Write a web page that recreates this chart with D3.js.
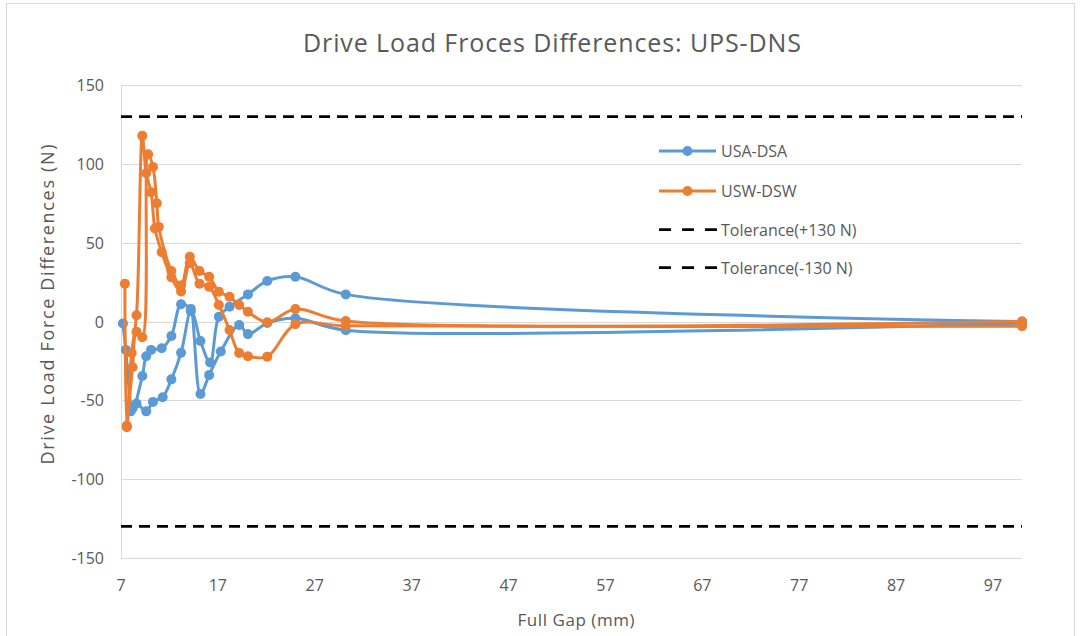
<!DOCTYPE html>
<html>
<head>
<meta charset="utf-8">
<script src="https://cdn.jsdelivr.net/npm/d3@7"></script>
<style>
  body { margin: 0; background: #fff; }
  text { font-family: "Open Sans", sans-serif; fill: #595959; }
</style>
</head>
<body>
<div class="chart-wrapper"></div>
<script>

// USA-DSA, gap goes down to 7 mm then back up to 100 mm
const gapUSA = [7.2, 7.5, 8.2, 9.2, 9.6, 10.1, 11.2, 12.2, 13.2, 14.2, 15.2, 16.2, 17.1, 18.2, 20.1, 22.1, 25, 30.2, 100,
  100, 30.2, 25, 22.1, 20.1, 19.2, 17.3, 16.1, 15.2, 14.2, 13.2, 12.2, 11.3, 10.3, 9.6, 8.6, 8.0]
const diffUSA = [-1.2, -18, -55, -34.6, -22, -18, -17, -9.2, 10.9, 8, -12.4, -26, 3, 9.4, 17.2, 25.7, 28.4, 17.2, 0,
  -1, -5.5, 2, -1, -8, -2.2, -19, -34, -46, 6.5, -19.8, -36.7, -48, -51, -57, -52, -57]

// USW-DSW
const gapUSW = [7.4, 7.6, 8.1, 8.6, 9.2, 9.6, 10.1, 10.5, 11.2, 12.2, 13.2, 14.1, 15.1, 16.1, 17.1, 18.2, 19.2, 20.1, 22.1, 25, 30.2, 100,
  100, 30.2, 25, 22.1, 20.1, 19.2, 18.2, 17.1, 16.1, 15.1, 14.1, 13.2, 12.2, 10.9, 10.7, 10.3, 9.8, 9.2, 8.6, 8.2, 7.6]
const diffUSW = [24, -67, -20, 4, 117.8, 94, 82, 59, 44, 28, 19, 37, 24, 22, 10.5, -5.4, -20, -22, -22.3, -1.8, -2.7, -3,
  0, 0.3, 7.9, -0.5, 6.2, 10.5, 15.7, 18.9, 28.4, 32, 41, 23, 32, 60, 75, 98, 106, -10, -6.5, -29, -66]

const tolerances = [130, -130]
const xTicks = [7, 17, 27, 37, 47, 57, 67, 77, 87, 97]
const yTicks = [150, 100, 50, 0, -50, -100, -150]

const seriesNames = ['USA-DSA', 'USW-DSW', 'Tolerance(+130 N)', 'Tolerance(-130 N)']
const colors = ['#5B9BD5', '#ED7D31', '#000000', '#000000']

const width = 1080, height = 636
const margin = {top: 85, right: 58, bottom: 78, left: 121}

let svg = d3.select('.chart-wrapper').append('svg')
  .attr('width', width)
  .attr('height', height)

// chart frame
svg.append('rect')
  .attr('x', 6.5).attr('y', 3.5)
  .attr('width', 1068).attr('height', 640)
  .attr('fill', 'none')
  .attr('stroke', '#d9d9d9')

let x = d3.scaleLinear().domain([7, 100]).range([margin.left, width - margin.right])
let y = d3.scaleLinear().domain([-150, 150]).range([height - margin.bottom, margin.top])

// grid
svg.append('g')
  .selectAll('line')
  .data(yTicks)
  .enter()
  .append('line')
  .attr('x1', x(7)).attr('x2', x(100))
  .attr('y1', d => Math.round(y(d)) + 0.5).attr('y2', d => Math.round(y(d)) + 0.5)
  .attr('stroke', '#d9d9d9')
  .attr('stroke-width', 1)

svg.append('line')
  .attr('x1', x(7) + 0.5).attr('x2', x(7) + 0.5)
  .attr('y1', y(150)).attr('y2', y(-150))
  .attr('stroke', '#d9d9d9')

// tick labels
svg.append('g')
  .selectAll('text')
  .data(yTicks)
  .enter()
  .append('text')
  .attr('x', x(7) - 17)
  .attr('y', d => y(d) + 6)
  .attr('text-anchor', 'end')
  .style('font-size', '16px')
  .text(d => d)

svg.append('g')
  .selectAll('text')
  .data(xTicks)
  .enter()
  .append('text')
  .attr('x', d => x(d))
  .attr('y', y(-150) + 33)
  .attr('text-anchor', 'middle')
  .style('font-size', '16px')
  .text(d => d)

// titles
svg.append('text')
  .attr('x', 552).attr('y', 52)
  .attr('text-anchor', 'middle')
  .attr('textLength', 498)
  .attr('lengthAdjust', 'spacing')
  .style('font-size', '25px')
  .text('Drive Load Froces Differences: UPS-DNS')

svg.append('text')
  .attr('x', 576).attr('y', 626)
  .attr('text-anchor', 'middle')
  .attr('textLength', 117)
  .attr('lengthAdjust', 'spacing')
  .style('font-size', '17px')
  .text('Full Gap (mm)')

svg.append('text')
  .attr('transform', 'translate(54,' + (y(0) - 17) + ') rotate(-90)')
  .attr('text-anchor', 'middle')
  .attr('textLength', 320)
  .attr('lengthAdjust', 'spacing')
  .style('font-size', '18px')
  .text('Drive Load Force Differences (N)')

// tolerance lines
svg.append('g')
  .selectAll('line')
  .data(tolerances)
  .enter()
  .append('line')
  .attr('x1', x(7)).attr('x2', x(100))
  .attr('y1', d => y(d)).attr('y2', d => y(d))
  .attr('stroke', '#000')
  .attr('stroke-width', 2.75)
  .attr('stroke-dasharray', '11,7')

// series: each one is drawn as its closing and opening branch, split at the 100 mm turn
let line = d3.line()
  .x(d => x(d[0]))
  .y(d => y(d[1]))
  .curve(d3.curveCatmullRom.alpha(0.5))

let series = [
  {name: seriesNames[0], color: colors[0], pts: d3.zip(gapUSA, diffUSA)},
  {name: seriesNames[1], color: colors[1], pts: d3.zip(gapUSW, diffUSW)}
]

series.map(s => {
  let turn = s.pts.findIndex(p => p[0] == 100) + 1
  let branches = [s.pts.slice(0, turn), s.pts.slice(turn)]

  let g = svg.append('g')
  g.selectAll('path')
    .data(branches)
    .enter()
    .append('path')
    .attr('d', line)
    .attr('fill', 'none')
    .attr('stroke', s.color)
    .attr('stroke-width', 3)
    .attr('stroke-linejoin', 'round')
  g.selectAll('circle')
    .data(s.pts)
    .enter()
    .append('circle')
    .attr('cx', d => x(d[0]))
    .attr('cy', d => y(d[1]))
    .attr('r', 5)
    .attr('fill', s.color)
})

// legend
let legendY = [151, 191, 229.5, 267.5]

seriesNames.map((name, i) => {
  let lg = svg.append('g').attr('transform', 'translate(0,' + legendY[i] + ')')
  if (i < 2) {
    lg.append('line')
      .attr('x1', 659).attr('x2', 716)
      .attr('stroke', colors[i]).attr('stroke-width', 3)
    lg.append('circle')
      .attr('cx', 687.5).attr('r', 5)
      .attr('fill', colors[i])
  } else {
    lg.append('line')
      .attr('x1', 659).attr('x2', 717)
      .attr('stroke', colors[i]).attr('stroke-width', 2.75)
      .attr('stroke-dasharray', '12,11')
  }
  lg.append('text')
    .attr('x', 721).attr('y', 6)
    .style('font-size', '16px')
    .text(name)
})

</script>
</body>
</html>
